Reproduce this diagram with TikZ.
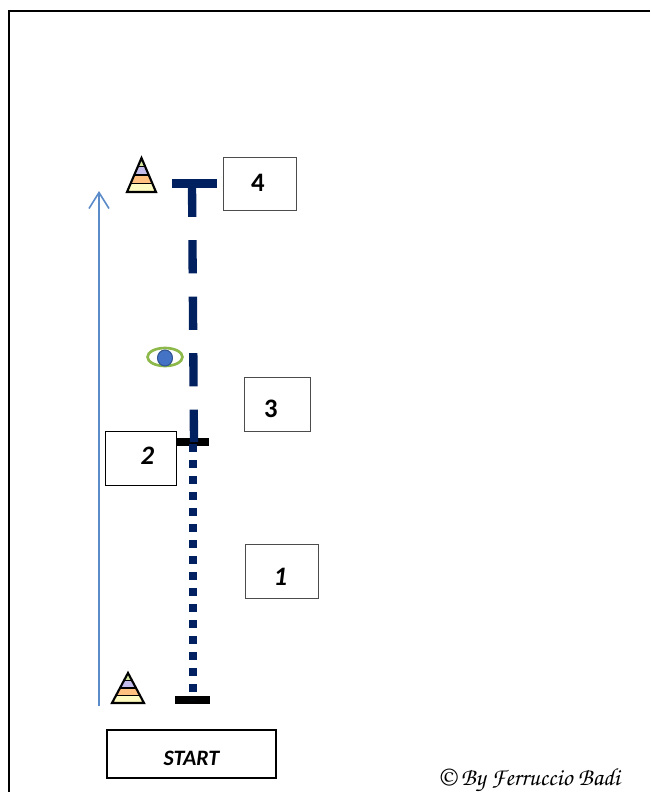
\documentclass[tikz,border=0pt]{standalone}
\usepackage[T1]{fontenc}
\usepackage{fontspec}
\setmainfont{Carlito}
\usetikzlibrary{arrows.meta}
\definecolor{navyline}{HTML}{002060}
\definecolor{arrowblue}{HTML}{5B8BC9}
\definecolor{eyegreen}{HTML}{8DB84A}
\definecolor{eyeblue}{HTML}{4472C4}
\definecolor{conea}{HTML}{FFFBC0}
\definecolor{coneb}{HTML}{FFC080}
\definecolor{conec}{HTML}{C4BDEC}
\definecolor{coned}{HTML}{D6E8A0}
\tikzset{
  numbox/.style={draw=black!70,line width=0.65pt,fill=white,inner sep=0pt},
  numtext/.style={inner sep=0pt,font=\bfseries\fontsize{20}{20}\selectfont},
  bar/.style={black,line width=6pt},
  cone/.pic={
    \begin{scope}
      \clip (0,0) -- (0.5,-1) -- (-0.5,-1) -- cycle;
      \fill[conea] (-0.5,-1) rectangle (0.5,-0.75);
      \fill[coneb] (-0.5,-0.75) rectangle (0.5,-0.5);
      \fill[conec] (-0.5,-0.5) rectangle (0.5,-0.25);
      \fill[coned] (-0.5,-0.25) rectangle (0.5,0);
    \end{scope}
    \draw[line width=1.2pt] (-0.375,-0.75) -- (0.375,-0.75);
    \draw[line width=1.2pt] (-0.25,-0.5) -- (0.25,-0.5);
    \draw[line width=1.2pt] (-0.125,-0.25) -- (0.125,-0.25);
    \draw[line width=1.6pt,line join=miter] (0,0) -- (0.5,-1) -- (-0.5,-1) -- cycle;
  }
}
\begin{document}
\begin{tikzpicture}[x=0.75pt,y=-0.75pt]
  \useasboundingbox (0,0) rectangle (650,792);

  % frame
  \draw[line width=1.5pt] (8.5,792) -- (8.5,11) -- (650,11);

  % boxes
  \node[numbox,minimum width=54.75pt,minimum height=39.75pt] (box4) at (259.5,183.5) {};
  \node[numtext] (text4) at (258,183) {4};
  \node[numbox,minimum width=49.5pt,minimum height=40.5pt] (box3) at (277.5,404) {};
  \node[numtext] (text3) at (271,408.5) {3};
  \node[numbox,draw=black,minimum width=53.25pt,minimum height=40.5pt] (box2) at (140.5,458) {};
  \node[numtext,font=\bfseries\itshape\fontsize{20}{20}\selectfont] (text2) at (147.5,456) {2};
  \node[numbox,minimum width=54.75pt,minimum height=40.5pt] (box1) at (281.5,571) {};
  \node[numtext,font=\bfseries\itshape\fontsize{20}{20}\selectfont] (text1) at (280.5,577) {1};
  \node[numbox,draw=black,line width=1pt,minimum width=126.75pt,minimum height=36pt] (startbox) at (191.5,754) {};
  \node[numtext,font=\bfseries\itshape\fontsize{16.5}{16.5}\selectfont] (starttext) at (191.5,758) {START};

  % route
  \coordinate (base) at (193,700);
  \coordinate (mid) at (193,442);
  \coordinate (top) at (192,183.5);
  \draw[bar] (175,700) -- (210,700);
  \draw[bar] (176,442) -- (209,442);
  \draw[navyline,line width=6pt,dash pattern=on 6pt off 6pt] (193,444) -- (base);
  \draw[navyline,line width=6.25pt,dash pattern=on 25pt off 17.4pt] (top) -- (194,442);
  \draw[navyline,line width=6.75pt] (172,183.5) -- (217,183.5);

  % direction
  \coordinate (arrowfoot) at (99,706);
  \coordinate (arrowhead) at (99,191);
  \draw[arrowblue,line width=1.2pt,-{Straight Barb[length=12pt,width=15pt]}] (arrowfoot) -- (arrowhead);

  % cones
  \begin{scope}[shift={(141.5,158)},x=21.75pt,y=25.5pt]
    \pic {cone};
  \end{scope}
  \begin{scope}[shift={(128,673)},x=24pt,y=22.5pt]
    \pic {cone};
  \end{scope}

  % eye
  \draw[eyegreen,line width=2pt] (165,357) ellipse (17.5 and 9);
  \draw[fill=eyeblue,draw=eyeblue!75!black,line width=0.8pt] (165,358) ellipse (7.5 and 8);

  % signature
  \node[anchor=base west,inner sep=0pt,font=\fontsize{18.5}{18.5}\usefont{T1}{pzc}{mb}{it}] (sign) at (437,785) {\textcopyright{} By Ferruccio Badi};
\end{tikzpicture}
\end{document}
